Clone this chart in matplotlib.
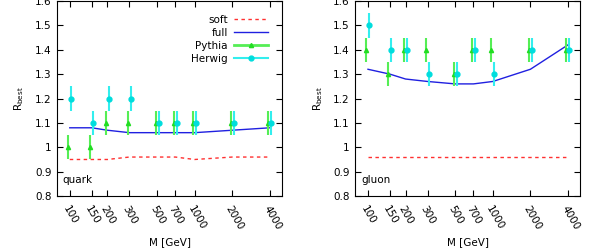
import numpy as np
import matplotlib
matplotlib.use("Agg")
from matplotlib import pyplot as plt
from matplotlib.lines import Line2D

masses = [100, 150, 200, 300, 500, 700, 1000, 2000, 4000]
tick_labels = ["100", "150", "200", "300", "500", "700", "1000", "2000", "4000"]

quark_soft = [0.95, 0.95, 0.95, 0.96, 0.96, 0.96, 0.95, 0.96, 0.96]
quark_full = [1.08, 1.08, 1.07, 1.06, 1.06, 1.06, 1.06, 1.07, 1.08]
quark_pythia = [1.0, 1.0, 1.1, 1.1, 1.1, 1.1, 1.1, 1.1, 1.1]
quark_herwig = [1.2, 1.1, 1.2, 1.2, 1.1, 1.1, 1.1, 1.1, 1.1]

gluon_soft = [0.96, 0.96, 0.96, 0.96, 0.96, 0.96, 0.96, 0.96, 0.96]
gluon_full = [1.32, 1.30, 1.28, 1.27, 1.26, 1.26, 1.27, 1.32, 1.42]
gluon_pythia = [1.4, 1.3, 1.4, 1.4, 1.3, 1.4, 1.4, 1.4, 1.4]
gluon_herwig = [1.5, 1.4, 1.4, 1.3, 1.3, 1.4, 1.3, 1.4, 1.4]

err = 0.05
shift = 1.028

SOFT_C = "#ff3030"
FULL_C = "#2020e0"
PYTH_C = "#22dd22"
PYTH_E = "#55ee55"
HERW_C = "#00dddd"
HERW_E = "#33eeee"

plt.rcParams["font.family"] = "DejaVu Sans"
plt.rcParams["font.size"] = 7.5

fig = plt.figure(figsize=(5.98, 2.52), dpi=100)
ax1 = fig.add_axes([0.0953, 0.222, 0.3763, 0.774])
ax2 = fig.add_axes([0.594, 0.222, 0.376, 0.774])


def draw_panel(ax, soft, full, pythia, herwig, name, legend):
    m = np.array(masses, dtype=float)
    ax.plot(m, soft, color=SOFT_C, lw=1, ls=(0, (2.5, 2.5)))
    ax.plot(m, full, color=FULL_C, lw=1)
    ax.errorbar(m / shift, pythia, yerr=err, fmt="^", ms=3, color=PYTH_C,
                ecolor=PYTH_E, elinewidth=1.5, capsize=0)
    ax.errorbar(m * shift, herwig, yerr=err, fmt="o", ms=3.5, color=HERW_C,
                ecolor=HERW_E, elinewidth=1.5, capsize=0)
    ax.set_xscale("log")
    ax.set_xlim(79, 5000)
    ax.set_ylim(0.8, 1.6)
    ax.set_xticks(masses)
    ax.set_xticklabels(tick_labels, rotation=-60, ha="left", va="top",
                       rotation_mode="anchor")
    ax.xaxis.set_minor_locator(matplotlib.ticker.NullLocator())
    ax.set_yticks([0.8, 0.9, 1.0, 1.1, 1.2, 1.3, 1.4, 1.5, 1.6])
    ax.set_yticklabels(["0.8", "0.9", "1", "1.1", "1.2", "1.3", "1.4", "1.5", "1.6"])
    ax.tick_params(direction="in", top=True, right=True, length=4, width=0.8, pad=4)
    ax.tick_params(axis="x", pad=6)
    ax.set_xlabel("M [GeV]", labelpad=4)
    ax.set_ylabel(r"R$_{\mathrm{best}}$", labelpad=6)
    ax.text(88, 0.855, name)
    if legend:
        handles = [
            Line2D([], [], color=SOFT_C, lw=1, ls=(0, (2.5, 2.5))),
            Line2D([], [], color=FULL_C, lw=1),
            Line2D([], [], color=PYTH_E, lw=2, marker="^", ms=3,
                   markerfacecolor=PYTH_C, markeredgecolor=PYTH_C),
            Line2D([], [], color=HERW_E, lw=1.5, marker="o", ms=3.5,
                   markerfacecolor=HERW_C, markeredgecolor=HERW_C),
        ]
        ax.legend(handles, ["soft", "full", "Pythia", "Herwig"],
                  loc="upper right", frameon=False, markerfirst=False,
                  handlelength=3.3, labelspacing=0.3, borderaxespad=1.1,
                  handletextpad=0.6, borderpad=0.2)


draw_panel(ax1, quark_soft, quark_full, quark_pythia, quark_herwig, "quark", True)
draw_panel(ax2, gluon_soft, gluon_full, gluon_pythia, gluon_herwig, "gluon", False)

fig.savefig("out.png", dpi=100)
